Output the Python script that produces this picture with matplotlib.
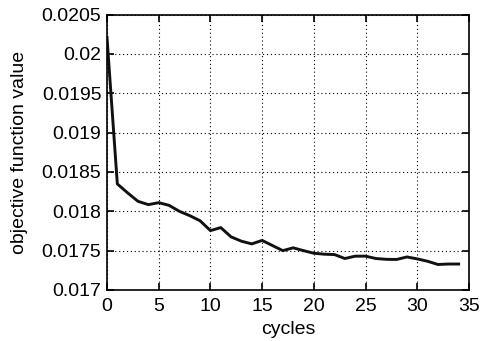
import matplotlib
matplotlib.use("Agg")
import matplotlib.pyplot as plt

plt.rcParams['font.family'] = ['Liberation Sans', 'DejaVu Sans']

# valeurs
cycles = list(range(35))
objective = [0.02021, 0.018348, 0.018234, 0.018127, 0.018085, 0.018110, 0.018076,
             0.018000, 0.017945, 0.017880, 0.017755, 0.017793, 0.017675, 0.017620,
             0.017586, 0.017630, 0.017565, 0.017500, 0.017536, 0.017500, 0.017467,
             0.017455, 0.017450, 0.017400, 0.017430, 0.017430, 0.017400, 0.017390,
             0.017388, 0.017420, 0.017395, 0.017365, 0.017324, 0.017330, 0.017330]

xticks = [0, 5, 10, 15, 20, 25, 30, 35]
yticks = [0.017, 0.0175, 0.018, 0.0185, 0.019, 0.0195, 0.02, 0.0205]
yticklabels = ['0.017', '0.0175', '0.018', '0.0185', '0.019', '0.0195', '0.02', '0.0205']

fig = plt.figure(figsize=(4.83, 3.41), dpi=100)
ax = fig.add_axes([0.2215, 0.1496, 0.7495, 0.8074])

ax.plot(cycles, objective, color='#111111', linewidth=2.1)

ax.set_xlim(0, 35)
ax.set_ylim(0.017, 0.0205)
ax.set_xticks(xticks)
ax.set_yticks(yticks)
ax.set_yticklabels(yticklabels)
ax.tick_params(direction='in', top=True, right=True, length=5, width=1.2,
               labelsize=14)
ax.tick_params(axis='x', pad=6)
ax.tick_params(axis='y', pad=4)
ax.grid(True, linestyle=(0, (1, 2.5)), color='black', linewidth=0.8)
for s in ax.spines.values():
    s.set_linewidth(1.2)

ax.set_xlabel("cycles", fontsize=14, labelpad=4)
ax.set_ylabel("objective function value", fontsize=14, labelpad=10)

fig.savefig("out.png", dpi=100)
